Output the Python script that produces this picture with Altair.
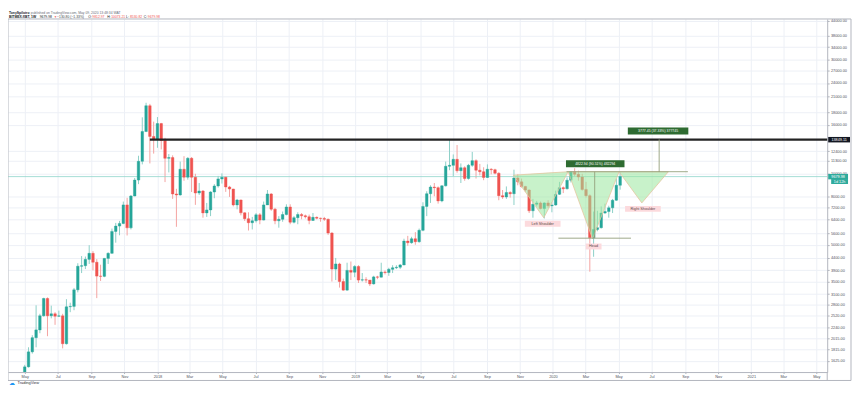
import altair as alt
import pandas as pd

# ---------------- weekly candles (BitMEX XBT/USD), first week 2017-05-01 ----------------
first_week = "2017-05-01"
opens = [1350, 1530, 1770, 2030, 2190, 2510, 2970, 2510, 2560, 2500,
         2510, 1915, 2740, 2750, 3230, 4060, 4080, 4340, 4600, 4220,
         3690, 3680, 4380, 4600, 5690, 5990, 6150, 7360, 5890, 8020,
         9360, 11230, 14990, 19250, 14290, 13950, 16190, 13745, 11560, 11640,
         8180, 8100, 10400, 9630, 11560, 9630, 8256, 8420, 6810, 7010,
         8340, 8840, 9470, 9630, 8755, 8583, 7360, 7717, 6812, 6433,
         6190, 6309, 6682, 6350, 7360, 8180, 7060, 6310, 6400, 6700,
         7210, 6220, 6500, 6700, 6620, 6560, 6330, 6520, 6470, 6450,
         6400, 5600, 3950, 4150, 3500, 3220, 3900, 3830, 4050, 3550,
         3560, 3550, 3420, 3660, 3650, 3840, 3820, 3940, 4000, 4020,
         4110, 5180, 5100, 5300, 5150, 5750, 7250, 8200, 8750, 8700,
         7650, 8850, 10700, 10800, 11450, 10250, 10550, 9500, 10800, 11300,
         10300, 10150, 9600, 10400, 10350, 10000, 8050, 7950, 8300, 8200,
         9550, 9200, 8800, 8500, 6950, 7400, 7500, 7100, 7500, 7300,
         7350, 8150, 8700, 8600, 9350, 10150, 9900, 9650, 8550, 8050,
         5350, 5800, 5900, 6800, 6900, 7150, 7700, 8900]
highs = [1560, 1850, 2080, 2780, 2560, 2990, 3000, 2770, 2600, 2640,
         2560, 2950, 2850, 3290, 4180, 4480, 4460, 4980, 4700, 4350,
         4120, 4400, 4650, 5850, 6180, 6300, 7600, 7880, 8100, 9550,
         11850, 17200, 19810, 19600, 16500, 17250, 16300, 14100, 12050, 11900,
         8600, 11200, 11800, 11700, 11700, 9950, 9100, 8500, 7500, 8400,
         9000, 9750, 9990, 9650, 8850, 8600, 7800, 7750, 6850, 6850,
         6550, 6800, 6800, 7600, 8500, 8250, 7150, 6600, 6900, 7400,
         7400, 6600, 6850, 6800, 6700, 6700, 6800, 6580, 6500, 6550,
         6450, 5650, 4400, 4200, 3600, 4200, 4250, 4100, 4100, 3800,
         3650, 3550, 3700, 3700, 4200, 3900, 4000, 4100, 4100, 4150,
         5300, 5450, 5400, 5650, 5850, 7550, 8400, 8900, 9100, 8800,
         8900, 11200, 13880, 12000, 13150, 11000, 10700, 10950, 12300, 11450,
         10950, 10600, 10900, 10500, 10450, 10100, 8500, 8800, 8400, 10350,
         9900, 9500, 8850, 8550, 7800, 7650, 7600, 7550, 7700, 7550,
         8450, 9200, 8800, 9600, 10200, 10500, 10250, 9950, 9200, 8150,
         6900, 6950, 7250, 7450, 7300, 7800, 9500, 10073.21]
lows = [1340, 1520, 1740, 1850, 2120, 2490, 2060, 2450, 2300, 2480,
        1830, 1900, 2600, 2650, 3150, 3800, 3950, 4150, 3900, 2980,
        3520, 3650, 4150, 4580, 5100, 5480, 6100, 5470, 5800, 8000,
        9000, 10900, 14900, 11000, 12100, 12800, 12600, 9180, 10080, 7800,
        5950, 8050, 9300, 9400, 8340, 7360, 8100, 6500, 6550, 6600,
        7850, 8700, 9050, 8350, 7950, 7250, 7050, 6650, 6300, 5740,
        5800, 6200, 6100, 6330, 7350, 6950, 6100, 5900, 6250, 6650,
        6100, 6150, 6100, 6400, 6450, 6100, 6300, 6400, 6250, 6300,
        5500, 3500, 3550, 3300, 3200, 3200, 3550, 3650, 3450, 3500,
        3450, 3350, 3400, 3580, 3640, 3750, 3700, 3800, 3950, 3950,
        4100, 4950, 5050, 5000, 5100, 5700, 6600, 7500, 8000, 7450,
        7550, 8800, 10300, 9700, 10050, 9100, 9300, 9400, 10650, 9500,
        9800, 9350, 9550, 9900, 9900, 7700, 7800, 7800, 7900, 7350,
        8900, 8700, 8350, 6800, 6500, 7250, 7050, 6450, 7150, 6850,
        7300, 8100, 8250, 8550, 9150, 9700, 9300, 8450, 7900, 3850,
        4450, 5700, 5850, 6750, 6500, 6800, 7650, 8530.82]
closes = [1530, 1770, 2030, 2190, 2510, 2970, 2510, 2560, 2500, 2510,
          1915, 2740, 2750, 3230, 4060, 4080, 4340, 4600, 4220, 3690,
          3680, 4380, 4600, 5690, 5990, 6150, 7360, 5890, 8020, 9360,
          11230, 14990, 19250, 14290, 13950, 16190, 13745, 11560, 11640, 8180,
          8100, 10400, 9630, 11560, 9630, 8256, 8420, 6810, 7010, 8340,
          8840, 9470, 9630, 8755, 8583, 7360, 7717, 6812, 6433, 6190,
          6309, 6682, 6350, 7360, 8180, 7060, 6310, 6400, 6700, 7210,
          6220, 6500, 6700, 6620, 6560, 6330, 6520, 6470, 6450, 6400,
          5600, 3950, 4150, 3500, 3220, 3900, 3830, 4050, 3550, 3560,
          3550, 3420, 3660, 3650, 3840, 3820, 3940, 4000, 4020, 4110,
          5180, 5100, 5300, 5150, 5750, 7250, 8200, 8750, 8700, 7650,
          8850, 10700, 10800, 11450, 10250, 10550, 9500, 10800, 11300, 10300,
          10150, 9600, 10400, 10350, 10000, 8050, 7950, 8300, 8200, 9550,
          9200, 8800, 8500, 6950, 7400, 7500, 7100, 7500, 7300, 7350,
          8150, 8700, 8600, 9350, 10150, 9900, 9650, 8550, 8050, 5350,
          5800, 5900, 6800, 6900, 7150, 7700, 8900, 9679.98]

price_ticks = [1625, 1815, 2015, 2240, 2520, 2800, 3100, 3500, 3900, 4400, 5000,
               5600, 6400, 7200, 8000, 10000, 11300, 12400, 16000, 18000, 21000,
               24000, 27000, 30000, 34000, 38000, 44000]

resistance_price = 13849.11
resistance_from = "2017-12-18"
last_price = 9679.98
countdown_text = "1d 12h"
countdown_price = 9230

neckline_price = 10151.5
neckline_span = ["2020-01-26", "2020-09-06"]
head_price = 5328.5
head_span = ["2020-01-11", "2020-05-24"]

tri_name = ["ls", "ls", "ls", "head", "head", "head", "rs", "rs", "rs"]
tri_date = ["2019-10-20", "2019-12-15", "2020-01-29",
            "2020-01-29", "2020-03-14", "2020-05-02",
            "2020-05-02", "2020-06-13", "2020-08-01"]
tri_edge = [9818, 6494, 10151, 10151, 5300, 10151, 10151, 7502, 10151]
tri_top = [9818, 10027, 10151, 10151, 10151, 10151, 10151, 10151, 10151]

callout_text = ["Left Shoulder", "Head", "Right Shoulder"]
callout_date = ["2019-12-13", "2020-03-16", "2020-06-15"]
callout_price = [6130, 4916, 7080]
callout_width = [36, 16, 36]

range_text = ["4822.94 (90.51%) 482294", "3777.45 (37.33%) 377745"]
range_date = ["2020-03-18", "2020-07-15"]
range_low = [5328.5, 10119]
range_high = [10151.5, 13896]
range_label_date = ["2020-03-19", "2020-07-13"]
range_label_price = [10970, 15060]
range_label_width = [59, 61]

header_name = "TonySpilotro"
header_rest = "published on TradingView.com, May 09, 2020 13:48:34 WAT"
symbol_text = "BITMEX:XBT, 1W"
ohlc_labels = ["O:", "H:", "L:", "C:"]
ohlc_values = ["9812.97", "10073.21", "8530.82", "9679.98"]

# ---------------- styling ----------------
W, H = 826, 356
GREEN, RED = "#26a69a", "#ef5350"
GREEN_WICK, RED_WICK = "#8ccfc7", "#f4a3a1"
GRID = "#edf0f6"
FRAME = "#b2b5be"
AXIS_TEXT = "#50535e"
FONT = "Liberation Sans"
ONE = pd.DataFrame({"k": [0]})

x_scale = alt.Scale(type="utc", domain=[
    alt.DateTime(year=2017, month=4, date=9, hours=7, minutes=12, utc=True),
    alt.DateTime(year=2021, month=5, date=12, utc=True)])
y_scale = alt.Scale(type="log", domain=[1455, 44640], nice=False, zero=False)

month_ticks = [alt.DateTime(year=y, month=m, date=1, utc=True)
               for y in range(2017, 2022) for m in (1, 3, 5, 7, 9, 11)
               if (2017, 5) <= (y, m) <= (2021, 5)]

x_axis = alt.Axis(values=month_ticks, title="", grid=True, gridColor=GRID, gridWidth=1,
                  labelExpr="utcFormat(datum.value, '%m') == '01' ? utcFormat(datum.value, '%Y') : utcFormat(datum.value, '%b')",
                  labelFontSize=3.9, labelColor=AXIS_TEXT, labelFont=FONT, labelPadding=0.8,
                  tickSize=1.5, tickColor=FRAME, domainColor=FRAME, labelOverlap=False, labelFlush=False)
y_axis = alt.Axis(orient="right", values=price_ticks, format=".2f", title="", grid=True,
                  gridColor=GRID, gridWidth=1, labelFontSize=3.9, labelColor=AXIS_TEXT,
                  labelFont=FONT, labelPadding=1.2, tickSize=2, tickColor=FRAME,
                  domainColor=FRAME, labelOverlap=False, labelFlush=False)


def X(field):
    return alt.X(field, scale=x_scale, axis=x_axis)


def Y(field, **kw):
    return alt.Y(field, scale=y_scale, axis=y_axis, **kw)


candles = pd.DataFrame({
    "date": pd.date_range(first_week, periods=len(closes), freq="7D").strftime("%Y-%m-%d"),
    "open": opens, "high": highs, "low": lows, "close": closes})
up = "datum.close >= datum.open"

wicks = alt.Chart(candles).mark_rule(clip=True, strokeWidth=1).encode(
    x=X("date:T"), y=Y("low:Q"), y2="high:Q",
    color=alt.condition(up, alt.value(GREEN_WICK), alt.value(RED_WICK)))
bodies = alt.Chart(candles).mark_bar(clip=True, width=2.6, strokeWidth=0.4).encode(
    x=X("date:T"), y=Y("open:Q"), y2="close:Q",
    color=alt.condition(up, alt.value(GREEN), alt.value(RED)),
    stroke=alt.condition(up, alt.value(GREEN), alt.value(RED)))

price_line = alt.Chart(pd.DataFrame({"p": [last_price]})).mark_rule(
    color="#8fd4ca", strokeWidth=0.8).encode(y=Y("p:Q"), x=alt.value(0), x2=alt.value(W))
resistance = alt.Chart(pd.DataFrame({"d": [resistance_from], "p": [resistance_price]})).mark_rule(
    color="#232323", strokeWidth=2.2).encode(x=X("d:T"), x2=alt.value(W), y=Y("p:Q"))

tri = pd.DataFrame({"name": tri_name, "date": tri_date, "edge": tri_edge, "top": tri_top})
tri_fill = alt.Chart(tri).mark_area(color="#9be79f", opacity=0.55).encode(
    x=X("date:T"), y=Y("edge:Q", stack=None), y2="top:Q", detail="name:N")
outline_rows = []
for i in range(0, len(tri_name), 3):
    pts = [(tri_date[i], tri_edge[i]), (tri_date[i + 1], tri_edge[i + 1]),
           (tri_date[i + 2], tri_edge[i + 2]), (tri_date[i], tri_top[i])]
    for o, (d, p) in enumerate(pts):
        outline_rows.append({"name": tri_name[i], "date": d, "p": p, "o": o})
tri_edge_line = alt.Chart(pd.DataFrame(outline_rows)).mark_line(
    color="#e6c6a0", strokeWidth=0.8).encode(
    x=X("date:T"), y=Y("p:Q"), detail="name:N", order="o:Q")

TOOL = "#93a07c"
levels = pd.DataFrame({"a": [neckline_span[0], head_span[0]],
                       "b": [neckline_span[1], head_span[1]],
                       "p": [neckline_price, head_price]})
level_lines = alt.Chart(levels).mark_rule(color=TOOL, strokeWidth=0.9).encode(
    x=X("a:T"), x2="b:T", y=Y("p:Q"))
ranges = pd.DataFrame({"d": range_date, "lo": range_low, "hi": range_high})
range_lines = alt.Chart(ranges).mark_rule(color=TOOL, strokeWidth=0.9).encode(
    x=X("d:T"), y=Y("lo:Q"), y2="hi:Q")


def box(df, x_enc, y_enc, w, h, fill):
    path = f"M-1,{-h / w:.4f}H1V{h / w:.4f}H-1Z"
    return alt.Chart(df).mark_point(shape=path, size=w * w, filled=True, color=fill,
                                    opacity=1, strokeWidth=0).encode(x=x_enc, y=y_enc)


def label(df, x_enc, y_enc, color, size, weight="normal"):
    return alt.Chart(df).mark_text(fontSize=size, color=color, font=FONT, fontWeight=weight,
                                   align="center", baseline="middle").encode(
        x=x_enc, y=y_enc, text="t:N")


annot = []
for t, d, p, w in zip(callout_text, callout_date, callout_price, callout_width):
    df = pd.DataFrame({"d": [d], "p": [p], "t": [t]})
    annot.append(box(df, X("d:T"), Y("p:Q"), w, 6, "#fcdadd"))
    annot.append(label(df, X("d:T"), Y("p:Q"), "#5b4545", 3.8))
for t, d, p, w in zip(range_text, range_label_date, range_label_price, range_label_width):
    df = pd.DataFrame({"d": [d], "p": [p], "t": [t]})
    annot.append(box(df, X("d:T"), Y("p:Q"), w, 7, "#2e6b31"))
    annot.append(label(df, X("d:T"), Y("p:Q"), "white", 3.5))

axis_tags = [("13849.11", resistance_price, 838, 22, 5.5, "#131722"),
             (f"{last_price:.2f}", last_price, 837, 20, 5.5, "#2eaa9c"),
             (countdown_text, countdown_price, 838.5, 17, 5, "#2eaa9c")]
for t, p, xc, w, h, fill in axis_tags:
    df = pd.DataFrame({"p": [p], "t": [t]})
    annot.append(box(df, alt.value(xc), Y("p:Q"), w, h, fill))
    annot.append(label(df, alt.value(xc), Y("p:Q"), "white", 3.8))


def hrule(y, x1, x2):
    return alt.Chart(ONE).mark_rule(color=FRAME, strokeWidth=1).encode(
        x=alt.value(x1), x2=alt.value(x2), y=alt.value(y))


def vrule(x, y1, y2):
    return alt.Chart(ONE).mark_rule(color=FRAME, strokeWidth=1).encode(
        x=alt.value(x), y=alt.value(y1), y2=alt.value(y2))


frame = [hrule(0, 0, 850), hrule(364.5, 0, 850), vrule(0, 0, 364.5),
         vrule(850, 0, 364.5), vrule(W, H, 364.5)]


def txt(x, y, s, size, color, weight="normal"):
    return alt.Chart(ONE).mark_text(fontSize=size, color=color, font=FONT, fontWeight=weight,
                                    align="left", baseline="middle").encode(
        x=alt.value(x), y=alt.value(y), text=alt.value(s))


header = [txt(1, -6.4, header_name, 3.4, "#131722", "bold"),
          txt(23, -6.4, header_rest, 3.4, "#6a6d78"),
          txt(1, -2.3, symbol_text, 3.4, "#131722", "bold"),
          txt(32, -2.3, f"{last_price:.2f}", 3.4, "#131722"),
          txt(46.5, -2.3, "▼", 3.0, RED),
          txt(49.5, -2.3, "−130.80 (−1.33%)", 3.4, "#3d3f46")]
for lx, lbl, vx, val in zip([81, 100, 119, 137], ohlc_labels, [85, 104, 123, 141], ohlc_values):
    header.append(txt(lx, -2.3, lbl, 3.4, "#131722"))
    header.append(txt(vx, -2.3, val, 3.4, RED))

logo = [txt(1, 367, "☁", 6, "#2196f3"), txt(9.5, 367, "TradingView", 4, "#2a2e39")]

chart = alt.layer(
    wicks, price_line, bodies, resistance, tri_fill, tri_edge_line, level_lines, range_lines,
    *annot, *frame, *header, *logo
).properties(
    width=W, height=H,
    autosize=alt.AutoSizeParams(type="none"),
    padding={"left": 0, "top": 9.5, "right": 25, "bottom": 13.5},
    background="white"
).configure_view(stroke="transparent")

chart.save("out.html", embed_options={"renderer": "svg", "actions": False})
